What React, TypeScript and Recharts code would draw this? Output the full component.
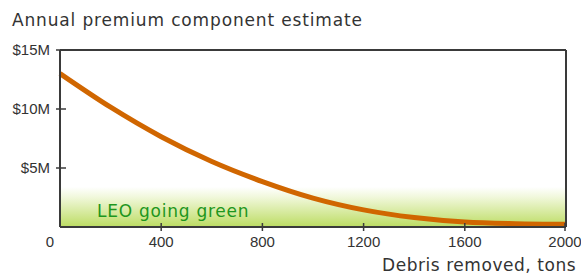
import React from "react";
import { LineChart, Line, XAxis, YAxis, ReferenceArea, ReferenceLine } from "recharts";

const debrisTons = [0, 200, 400, 600, 800, 1000, 1200, 1400, 1600, 1800, 2000];
const premiumM = [13.0, 10.15, 7.65, 5.55, 3.85, 2.45, 1.45, 0.8, 0.42, 0.28, 0.23];
const xTicks = [0, 400, 800, 1200, 1600, 2000];
const yTicks = [5, 10, 15];
const yTickLabels = ["$5M", "$10M", "$15M"];

const data = debrisTons.map((t, i) => ({ tons: t, premium: premiumM[i] }));

const AXIS = "#3a3a3a";
const TXT = "#333333";

const XTick = (props: any) => {
  const { x, y, payload } = props;
  const v = payload.value;
  return (
    <g>
      {v !== 0 && <line x1={x} x2={x} y1={y - 4} y2={y + 4} stroke={AXIS} strokeWidth={1.5} />}
      <text
        x={v === 0 ? x - 10 : x}
        y={y + 20}
        textAnchor="middle"
        fontFamily="'Liberation Sans', Arial, sans-serif"
        fontSize={15}
        fill={TXT}
      >
        {v}
      </text>
    </g>
  );
};

const YTick = (props: any) => {
  const { x, y, payload } = props;
  const idx = yTicks.indexOf(payload.value);
  return (
    <g>
      <line x1={x - 4} x2={x + 6} y1={y} y2={y} stroke={AXIS} strokeWidth={1.5} />
      <text
        x={x - 10}
        y={y + 5}
        textAnchor="end"
        fontFamily="'Liberation Sans', Arial, sans-serif"
        fontSize={15}
        fill={TXT}
      >
        {idx >= 0 ? yTickLabels[idx] : ""}
      </text>
    </g>
  );
};

const textStyle: React.CSSProperties = {
  position: "absolute",
  fontFamily: "'DejaVu Sans', Verdana, sans-serif",
  fontSize: 17,
  lineHeight: "normal",
  whiteSpace: "nowrap",
  color: TXT,
};

export default function App() {
  return (
    <div style={{ position: "absolute", left: 0, top: 0, width: 581, height: 274, background: "#fff" }}>
      <LineChart
        width={581}
        height={274}
        data={data}
        margin={{ top: 50, right: 15, bottom: 0, left: 0 }}
      >
        <defs>
          <linearGradient id="greenGrad" x1="0" y1="0" x2="0" y2="1">
            <stop offset="0%" stopColor="#ffffff" />
            <stop offset="25%" stopColor="#f1f8dc" />
            <stop offset="100%" stopColor="#bcdc62" />
          </linearGradient>
        </defs>
        <XAxis
          dataKey="tons"
          type="number"
          domain={[0, 2000]}
          ticks={xTicks}
          height={47}
          tickSize={0}
          tickMargin={0}
          tick={<XTick />}
          axisLine={false}
          tickLine={false}
        />
        <YAxis
          type="number"
          domain={[0, 15]}
          ticks={yTicks}
          width={60}
          tickSize={0}
          tickMargin={0}
          tick={<YTick />}
          axisLine={false}
          tickLine={false}
        />
        <ReferenceArea x1={0} x2={2000} y1={0} y2={3.4} fill="url(#greenGrad)" fillOpacity={1} stroke="none" ifOverflow="visible" />
        <Line
          type="monotone"
          dataKey="premium"
          stroke="#d06600"
          strokeWidth={5}
          dot={false}
          isAnimationActive={false}
        />
        <ReferenceLine y={15} stroke={AXIS} strokeWidth={2} ifOverflow="visible" />
        <ReferenceLine x={2000} stroke={AXIS} strokeWidth={2} ifOverflow="visible" />
        <ReferenceLine y={0} stroke={AXIS} strokeWidth={2} ifOverflow="visible" />
        <ReferenceLine x={0} stroke={AXIS} strokeWidth={2} ifOverflow="visible" />
      </LineChart>
      <div style={{ ...textStyle, left: 12, top: 10, letterSpacing: 0.85 }}>Annual premium component estimate</div>
      <div style={{ ...textStyle, left: 97, top: 201, color: "#1e961e", letterSpacing: 0.75 }}>LEO going green</div>
      <div style={{ ...textStyle, left: 382, top: 255, letterSpacing: 0.55 }}>Debris removed, tons</div>
    </div>
  );
}
